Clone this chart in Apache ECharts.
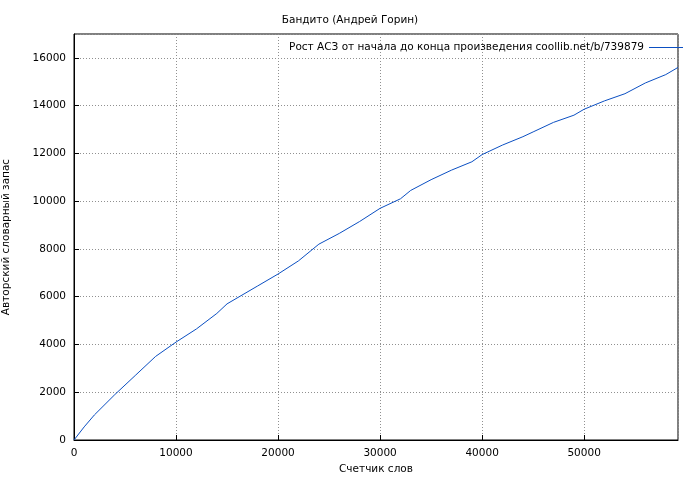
<!DOCTYPE html>
<html>
<head>
<meta charset="utf-8">
<script src="https://cdn.jsdelivr.net/npm/echarts@6/dist/echarts.min.js"></script>
<style>html,body{margin:0;padding:0;background:#fff}#chart{width:700px;height:480px}</style>
</head>
<body>
<div id="chart"></div>
<script>
var words = [0, 1000, 2000, 4000, 6000, 8000, 10000, 12000, 14000, 15000, 18000, 20000, 22000, 24000, 26000, 28000, 30000, 32000, 33000, 35000, 37000, 39000, 40000, 42000, 44000, 45000, 47000, 49000, 50000, 52000, 54000, 56000, 58000, 59200];
var vocab = [0, 550, 1050, 1900, 2700, 3500, 4100, 4650, 5300, 5700, 6450, 6950, 7500, 8200, 8650, 9150, 9700, 10100, 10450, 10900, 11300, 11650, 11950, 12350, 12700, 12900, 13300, 13600, 13850, 14200, 14500, 14950, 15300, 15600];
var seriesName = 'Рост АСЗ от начала до конца произведения coollib.net/b/739879';

var points = words.map(function (w, i) { return [w, vocab[i]]; });
var chart = echarts.init(document.getElementById('chart'));
var font = 'DejaVu Sans';
var grid = { show: true, lineStyle: { color: '#909090', type: [1, 2], width: 1 } };

chart.setOption({
    animation: false,
    textStyle: { fontFamily: font },
    title: {
        text: 'Бандито (Андрей Горин)', left: 'center', top: 10,
        textStyle: { fontSize: 10.5, fontWeight: 'normal', color: '#000', fontFamily: font }
    },
    legend: {
        data: [seriesName], right: 12, top: 37, itemWidth: 34, itemHeight: 1,
        icon: 'rect', align: 'right',
        textStyle: { fontSize: 10.5, color: '#000', fontFamily: font }
    },
    grid: { left: 74, right: 22, top: 34, bottom: 40, outerBoundsMode: 'none', show: true, borderColor: '#000', borderWidth: 1 },
    xAxis: {
        type: 'value', min: 0, max: 59200, interval: 10000,
        name: 'Счетчик слов', nameLocation: 'middle', nameGap: 24,
        nameTextStyle: { fontSize: 10.5, color: '#000' },
        axisLine: { lineStyle: { color: '#000' } },
        axisTick: { inside: true, lineStyle: { color: '#000' } },
        axisLabel: { fontSize: 10.5, color: '#000', showMaxLabel: false, formatter: function (v) { return String(v); } },
        splitLine: grid
    },
    yAxis: {
        type: 'value', min: 0, max: 17000, interval: 2000,
        name: 'Авторский словарный запас', nameLocation: 'middle', nameGap: 62,
        nameTextStyle: { fontSize: 10.5, color: '#000' },
        axisLine: { lineStyle: { color: '#000' } },
        axisTick: { inside: true, lineStyle: { color: '#000' } },
        axisLabel: { fontSize: 10.5, color: '#000', showMaxLabel: false, formatter: function (v) { return String(v); } },
        splitLine: grid
    },
    series: [{
        name: seriesName, type: 'line', data: points, showSymbol: false,
        lineStyle: { color: '#0b4fc2', width: 1 }, itemStyle: { color: '#0b4fc2' }
    }]
});
</script>
</body>
</html>
